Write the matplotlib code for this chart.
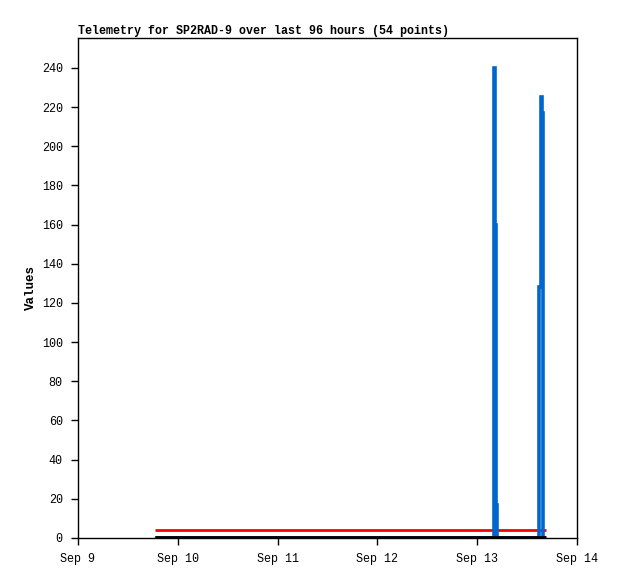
import matplotlib
matplotlib.use("Agg")
import matplotlib.pyplot as plt
from datetime import datetime, timedelta

start = datetime(2023, 9, 9)

# hours since Sep 9 00:00
blue_hours = [18.5, 100.0, 100.2, 100.4, 100.6, 100.8, 110.9, 111.25, 111.6, 111.8, 112.5]
blue_vals = [0, 240, 225, 160, 17, 0, 128, 225, 217, 0, 0]
red_hours = [18.5, 112.6]
red_vals = [4, 4]
black_hours = [18.5, 112.6]
black_vals = [0.4, 0.4]

xtick_days = [9, 10, 11, 12, 13, 14]
ytick_vals = list(range(0, 241, 20))

def to_dt(hs):
    return [start + timedelta(hours=h) for h in hs]

mono = ["Liberation Mono", "DejaVu Sans Mono"]

fig = plt.figure(figsize=(6.18, 5.79), dpi=100)
ax = fig.add_axes([78/618, 41/579, 499/618, 500/579])

ax.plot(to_dt(blue_hours), blue_vals, color="#0066cc", lw=2.6, drawstyle="steps-post",
        solid_capstyle="butt", solid_joinstyle="miter", zorder=2)
ax.plot(to_dt(red_hours), red_vals, color="#ff0000", lw=2, solid_capstyle="butt", zorder=1.5)
ax.plot(to_dt(black_hours), black_vals, color="black", lw=2, solid_capstyle="butt", clip_on=False, zorder=3)

ax.set_xlim(start, start + timedelta(days=5))
ax.set_ylim(0, 255.3)
ax.set_xticks([datetime(2023, 9, d) for d in xtick_days])
ax.set_xticklabels([f"Sep {d}" for d in xtick_days], family=mono, fontsize=8.5)
ax.set_yticks(ytick_vals)
ax.set_yticklabels([str(v) for v in ytick_vals], family=mono, fontsize=8.5)
ax.tick_params(direction="out", length=5, width=1, colors="black", pad=6)
for s in ax.spines.values():
    s.set_linewidth(1)
ax.set_ylabel("Values", family=mono, fontsize=9, fontweight="bold", labelpad=0)
ax.yaxis.set_label_coords(-0.082, 0.5)
ax.set_title("Telemetry for SP2RAD-9 over last 96 hours (54 points)", family=mono,
             fontsize=8.4, fontweight="bold", loc="left", pad=3)

fig.savefig("out.png", dpi=100)
